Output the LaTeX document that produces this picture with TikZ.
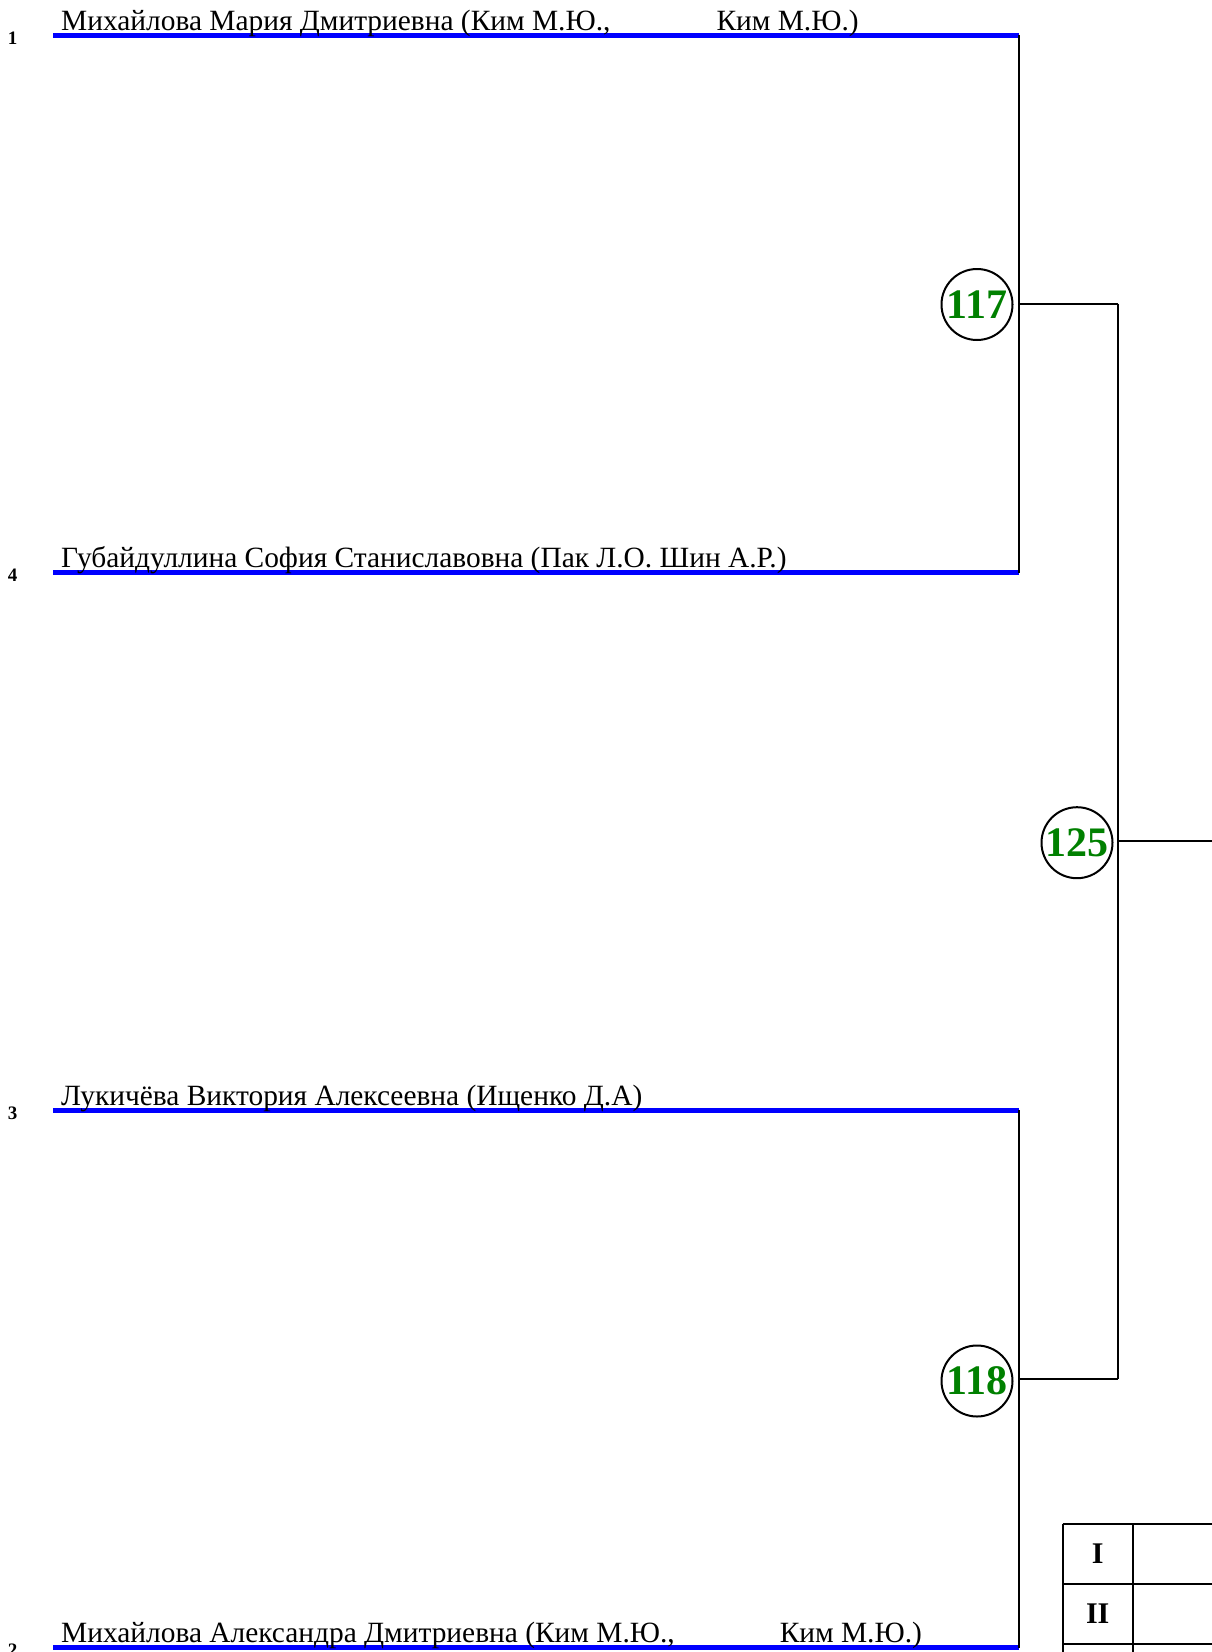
\documentclass[tikz,border=0pt]{standalone}
\usepackage{fontspec}
\setmainfont{Liberation Serif}
\definecolor{lanecol}{HTML}{0000FF}
\definecolor{score}{HTML}{008000}
\tikzset{player/.style={anchor=base west,inner sep=0pt,font=\fontsize{29.4}{32}\selectfont},seed/.style={inner sep=0pt,font=\bfseries\fontsize{19}{21}\selectfont},lane/.style={draw=lanecol,line width=5pt},link/.style={draw=black,line width=2pt},match/.style={circle,draw=black,line width=2pt,minimum size=71pt,inner sep=0pt,text=score,font=\bfseries\fontsize{42}{46}\selectfont},place/.style={inner sep=0pt,font=\bfseries\fontsize{30}{34}\selectfont}}

\begin{document}
\begin{tikzpicture}[x=1pt,y=-1pt]
\useasboundingbox (0,0) rectangle (1212,1652);
\clip (0,0) rectangle (1212,1652);
% lanes
\coordinate (a1) at (53,35); \coordinate (b1) at (1019,35);
\coordinate (a4) at (53,572.5); \coordinate (b4) at (1019,572.5);
\coordinate (a3) at (53,1110); \coordinate (b3) at (1019,1110);
\coordinate (a2) at (53,1647.5); \coordinate (b2) at (1019,1647.5);
\draw[lane](a1)--(b1);\draw[lane](a4)--(b4);\draw[lane](a3)--(b3);\draw[lane](a2)--(b2);
\node[seed] (s1) at (12.6,38) {1};
\node[seed] (s4) at (12.6,575.5) {4};
\node[seed] (s3) at (12.6,1113) {3};
\node[seed] (s2) at (12.6,1650.5) {2};
\node[player] (n1) at (61,30) {Михайлова Мария Дмитриевна (Ким М.Ю.,\hspace{106pt}Ким М.Ю.)};
\node[player] (n4) at (61,567.5) {Губайдуллина София Станиславовна (Пак Л.О. Шин А.Р.)};
\node[player] (n3) at (61,1105) {Лукичёва Виктория Алексеевна (Ищенко Д.А)};
\node[player] (n2) at (61,1642.5) {Михайлова Александра Дмитриевна (Ким М.Ю.,\hspace{105pt}Ким М.Ю.)};
% rounds
\coordinate (j117) at (1019,303.7); \coordinate (k117) at (1118,303.7);
\coordinate (j118) at (1019,1378.7); \coordinate (k118) at (1118,1378.7);
\coordinate (j125) at (1118,841); \coordinate (o125) at (1212,841);
\draw[link](b1)--(b4);\draw[link](b3)--(b2);\draw[link](j117)--(k117);\draw[link](j118)--(k118);\draw[link](k117)--(k118);\draw[link](j125)--(o125);
\node[match] (m117) at (977,304.5) {117};
\node[match] (m125) at (1077,842.7) {125};
\node[match] (m118) at (977,1381) {118};
% places
\draw[link] (1062.7,1524) -- (1220,1524) (1062.7,1584) -- (1220,1584) (1062.7,1644) -- (1220,1644) (1062.7,1524) -- (1062.7,1660) (1132.7,1524) -- (1132.7,1660);
\node[place] (p1) at (1097.7,1554) {I};
\node[place] (p2) at (1097.7,1614) {II};
\end{tikzpicture}
\end{document}
